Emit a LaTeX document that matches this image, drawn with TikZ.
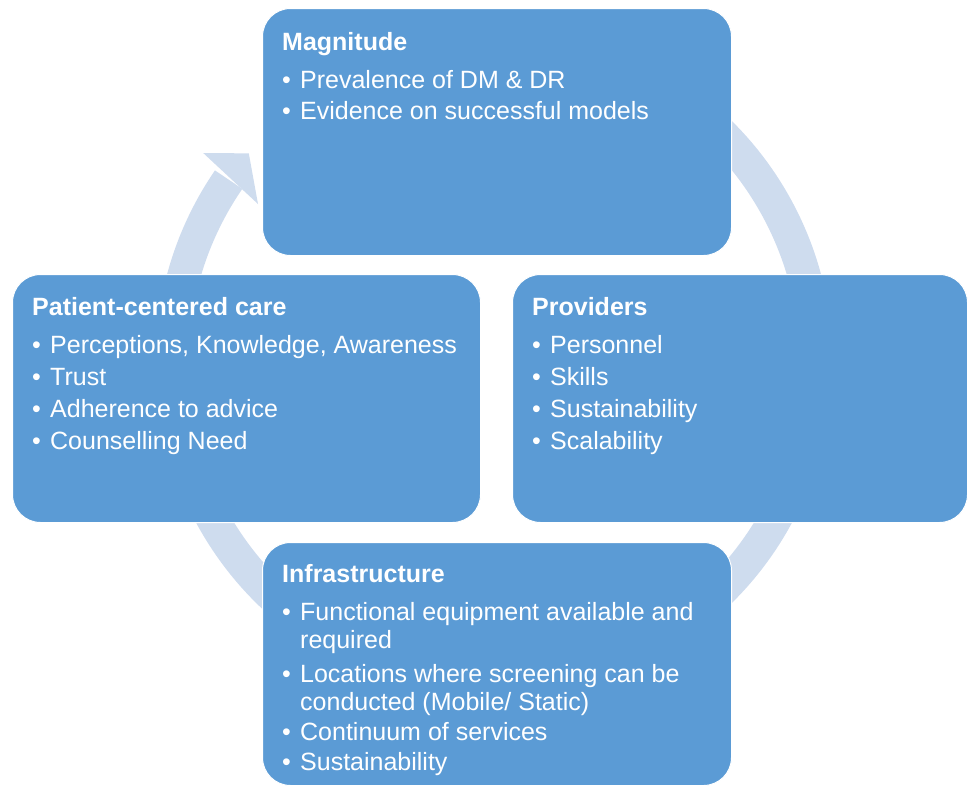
\documentclass[tikz,border=0pt]{standalone}
\usepackage{fontspec}
\setmainfont{Liberation Sans}
\usepackage{xcolor}
\definecolor{boxblue}{RGB}{91,155,213}
\definecolor{arcblue}{RGB}{206,220,238}
\newcommand{\bul}{\makebox[18pt][l]{\textbullet}}
\newcommand{\cont}{\hspace*{18pt}}

\begin{document}
\begin{tikzpicture}[x=1pt,y=1pt,
        box/.style={rectangle,draw=white,line width=1pt,fill=boxblue,rounded corners=28pt,anchor=north west,inner sep=0pt},
        txt/.style={anchor=north west,inner sep=0pt,align=left,text=white,font=\fontsize{25}{28}\selectfont}]
        \useasboundingbox (0,0) rectangle (968,-787);
        \coordinate (centre) at (494,-362);

        \draw[arcblue,line width=33pt] (centre) ++(120:322pt) arc[start angle=120,end angle=-214.5,radius=322pt];
        \fill[arcblue,shift={(centre)}] (144.3:358pt) -- (139.6:322pt) -- (146.2:284pt) -- cycle;

        \node[box,minimum width=469pt,minimum height=247pt] (magnitude) at (262,-8) {};
        \node[box,minimum width=468pt,minimum height=248pt] (patient) at (12,-274) {};
        \node[box,minimum width=455pt,minimum height=248pt] (providers) at (512,-274) {};
        \node[box,minimum width=469pt,minimum height=243pt] (infra) at (262,-542) {};

        \node[txt] (magnitudetext) at ([shift={(20,-24)}]magnitude.north west) {\textbf{Magnitude}\\[10pt]
            \bul Prevalence of DM \& DR\\[3pt]
            \bul Evidence on successful models};
        \node[txt] (patienttext) at ([shift={(20,-23)}]patient.north west) {\textbf{Patient-centered care}\\[10pt]
            \bul Perceptions, Knowledge, Awareness\\[4pt]
            \bul Trust\\[4pt]
            \bul Adherence to advice\\[4pt]
            \bul Counselling Need};
        \node[txt] (providerstext) at ([shift={(20,-23)}]providers.north west) {\textbf{Providers}\\[10pt]
            \bul Personnel\\[4pt]
            \bul Skills\\[4pt]
            \bul Sustainability\\[4pt]
            \bul Scalability};
        \node[txt] (infratext) at ([shift={(20,-22)}]infra.north west) {\textbf{Infrastructure}\\[10pt]
            \bul Functional equipment available and\\
            \cont required\\[6pt]
            \bul Locations where screening can be\\
            \cont conducted (Mobile/ Static)\\[2pt]
            \bul Continuum of services\\[2pt]
            \bul Sustainability};
    \end{tikzpicture}
\end{document}
